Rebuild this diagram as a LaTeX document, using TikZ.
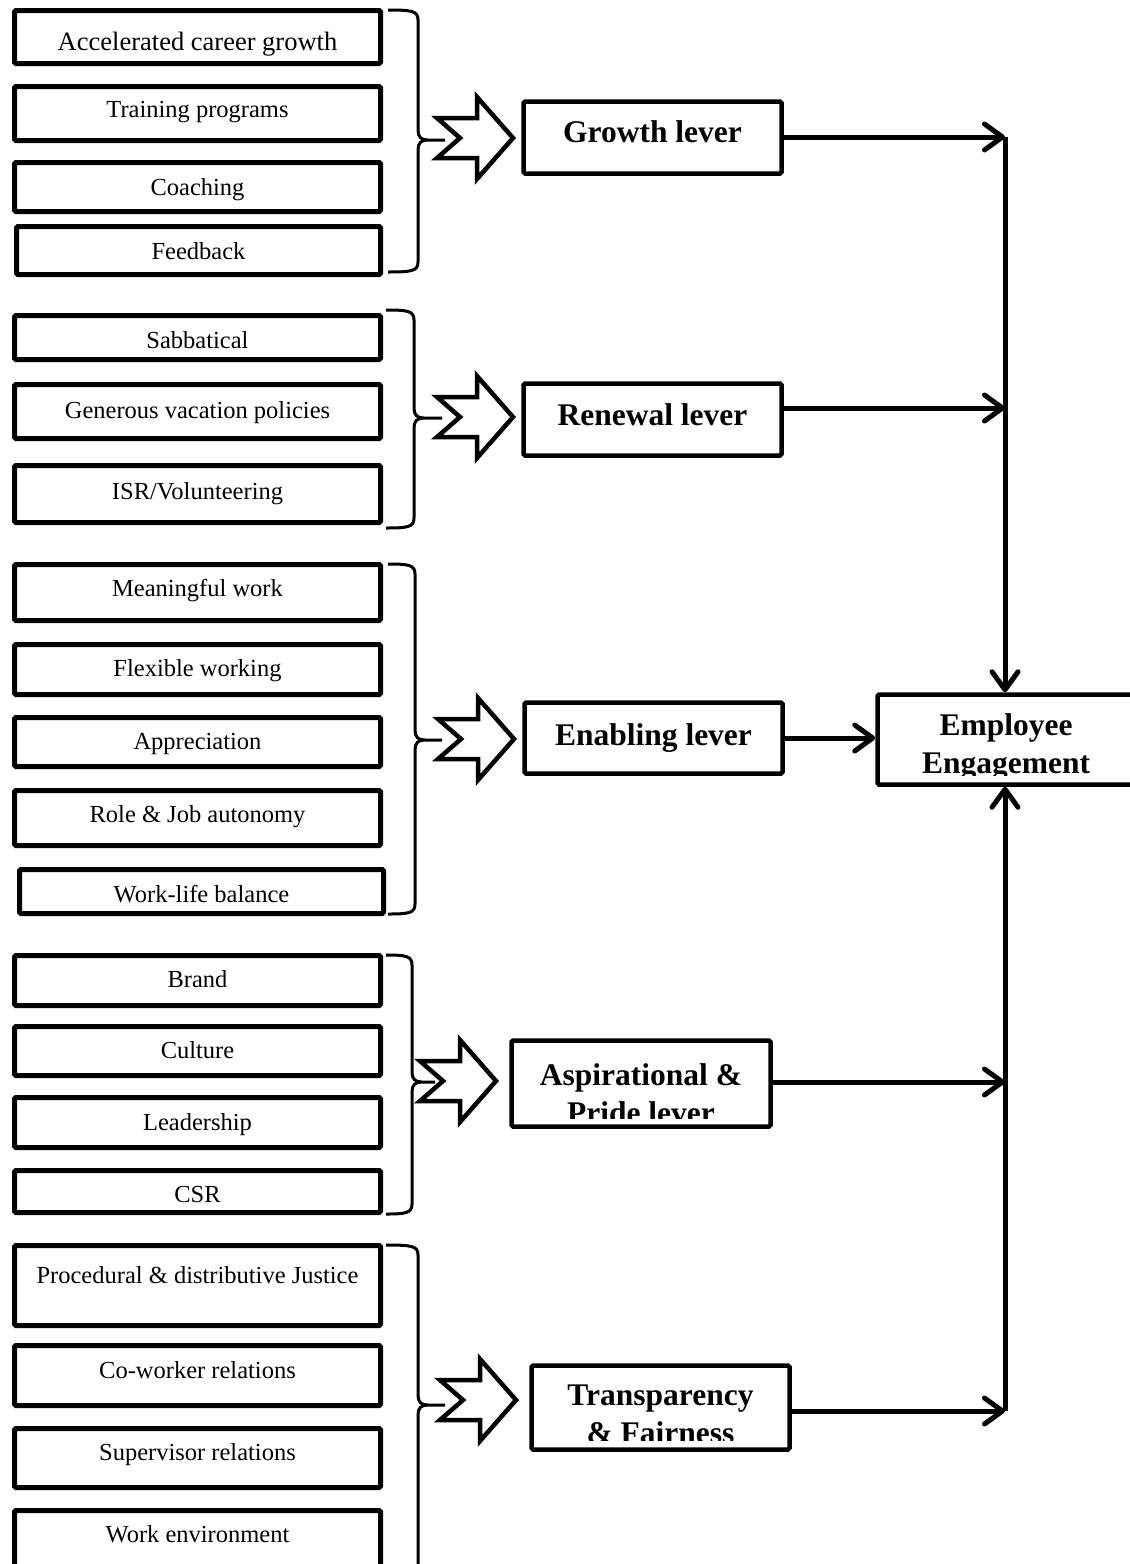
\documentclass[tikz,border=0pt]{standalone}
\usepackage{fontspec}
\setmainfont{Liberation Serif}
\usetikzlibrary{arrows.meta}

\tikzset{
  item/.style={draw, line width=5pt, rounded corners=1.5pt, minimum width=366pt, inner sep=0pt},
  itemtext/.style={font=\fontsize{24.5}{29}\selectfont, anchor=base, inner sep=0pt, yshift=-2pt},
  lever/.style={draw, line width=4.5pt, rounded corners=1.5pt, inner sep=0pt, minimum width=258pt},
  levertext/.style={font=\fontsize{31.5}{38}\selectfont\bfseries, anchor=base, inner sep=0pt},
  bracestyle/.style={line width=3pt},
  hollow/.style={line width=4.5pt, fill=white, line join=miter},
  conn/.style={line width=5pt, -{Straight Barb[length=18pt 0 0, width=26pt 0 0, round]}},
}

% curly brace: left x, spine x, top y, tip y, bottom y, tip end x
\newcommand{\leverbrace}[6]{%
  \draw[bracestyle] (#1,#3) .. controls (#2-6,#3) and (#2,#3+1) .. (#2,#3+10)
    -- (#2,#4-10) .. controls (#2,#4-3) and (#2+3,#4) .. (#2+10,#4) -- (#6,#4)
    (#2+10,#4) .. controls (#2+3,#4) and (#2,#4+3) .. (#2,#4+10)
    -- (#2,#5-10) .. controls (#2,#5-1) and (#2-6,#5) .. (#1,#5);}

% block arrow with notched tail: tail x, centre y
\newcommand{\hollowarrow}[2]{%
  \draw[hollow] (#1,#2-20) -- (#1+40,#2-20) -- (#1+40,#2-41) -- (#1+76,#2)
    -- (#1+40,#2+41) -- (#1+40,#2+20) -- (#1,#2+20) -- (#1+23,#2) -- cycle;}

\begin{document}
\begin{tikzpicture}[x=1pt, y=-1pt]
\useasboundingbox (0,0) rectangle (1130,1564);
\clip (0,0) rectangle (1130,1564);

% ---------- growth drivers ----------
\node[item, minimum height=53pt] (g1a) at (197.5,37) {};
\node[itemtext, font=\fontsize{26.5}{31}\selectfont] (g1a-t) at (197.5,48) {Accelerated career growth};
\node[item, minimum height=54pt] (g1b) at (197.5,113.5) {};
\node[itemtext] (g1b-t) at (197.5,115) {Training programs};
\node[item, minimum height=49pt] (g1c) at (197.5,187) {};
\node[itemtext] (g1c-t) at (197.5,193) {Coaching};
\node[item, minimum height=48pt, minimum width=364pt] (g1d) at (198.5,250.5) {};
\node[itemtext] (g1d-t) at (198.5,257) {Feedback};

% ---------- renewal drivers ----------
\node[item, minimum height=44pt] (g2a) at (197.5,337.5) {};
\node[itemtext] (g2a-t) at (197.5,346) {Sabbatical};
\node[item, minimum height=54pt] (g2b) at (197.5,411.5) {};
\node[itemtext] (g2b-t) at (197.5,416) {Generous vacation policies};
\node[item, minimum height=57pt] (g2c) at (197.5,494) {};
\node[itemtext] (g2c-t) at (197.5,497) {ISR/Volunteering};

% ---------- enabling drivers ----------
\node[item, minimum height=56pt] (g3a) at (197.5,592.5) {};
\node[itemtext] (g3a-t) at (197.5,594) {Meaningful work};
\node[item, minimum height=50pt] (g3b) at (197.5,669.5) {};
\node[itemtext] (g3b-t) at (197.5,674) {Flexible working};
\node[item, minimum height=49pt] (g3c) at (197.5,742) {};
\node[itemtext] (g3c-t) at (197.5,747) {Appreciation};
\node[item, minimum height=55pt] (g3d) at (197.5,818) {};
\node[itemtext] (g3d-t) at (197.5,820) {Role \& Job autonomy};
\node[item, minimum height=44pt, minimum width=364pt] (g3e) at (201.5,891.5) {};
\node[itemtext] (g3e-t) at (201.5,900) {Work-life balance};

% ---------- aspirational drivers ----------
\node[item, minimum height=50pt] (g4a) at (197.5,980.5) {};
\node[itemtext] (g4a-t) at (197.5,985) {Brand};
\node[item, minimum height=49pt] (g4b) at (197.5,1051) {};
\node[itemtext] (g4b-t) at (197.5,1056) {Culture};
\node[item, minimum height=50pt] (g4c) at (197.5,1122.5) {};
\node[itemtext] (g4c-t) at (197.5,1128) {Leadership};
\node[item, minimum height=42pt] (g4d) at (197.5,1191.5) {};
\node[itemtext] (g4d-t) at (197.5,1200) {CSR};

% ---------- fairness drivers ----------
\node[item, minimum height=80pt] (g5a) at (197.5,1285.5) {};
\node[itemtext] (g5a-t) at (197.5,1281) {Procedural \& distributive Justice};
\node[item, minimum height=60pt] (g5b) at (197.5,1375.5) {};
\node[itemtext] (g5b-t) at (197.5,1376) {Co-worker relations};
\node[item, minimum height=59pt] (g5c) at (197.5,1458) {};
\node[itemtext] (g5c-t) at (197.5,1458) {Supervisor relations};
\node[item, minimum height=87pt] (g5d) at (197.5,1554) {};
\node[itemtext] (g5d-t) at (197.5,1540) {Work environment};

% ---------- braces and block arrows ----------
\leverbrace{388}{418}{10}{140}{272}{445}
\hollowarrow{437}{138}
\leverbrace{386}{414}{310}{418}{528}{442}
\hollowarrow{437}{417}
\leverbrace{388}{415}{564}{740}{914}{442}
\hollowarrow{438}{739}
\leverbrace{386}{412}{955}{1082}{1214}{435}
\hollowarrow{420}{1081}
\leverbrace{386}{418}{1245}{1405}{1600}{445}
\hollowarrow{440}{1400}

% ---------- levers ----------
\node[lever, minimum height=72pt] (growth) at (652.5,137.5) {};
\node[levertext] (growth-t) at (652.5,142) {Growth lever};
\node[lever, minimum height=72pt] (renewal) at (652.5,419.5) {};
\node[levertext] (renewal-t) at (652.5,425) {Renewal lever};
\node[lever, minimum height=71pt] (enabling) at (653.5,738) {};
\node[levertext] (enabling-t) at (653.5,745) {Enabling lever};
\node[lever, minimum height=86pt, minimum width=259pt] (asp) at (641,1083.5) {};
\begin{scope}
  \clip (510,1040) rectangle (772,1118);
  \node[levertext] (asp-t1) at (641,1085) {Aspirational \&};
  \node[levertext] (asp-t2) at (641,1123) {Pride lever};
\end{scope}
\node[lever, minimum height=84pt] (trans) at (660.5,1407.5) {};
\begin{scope}
  \clip (530,1365) rectangle (791,1440);
  \node[levertext] (trans-t1) at (660.5,1405) {Transparency};
  \node[levertext] (trans-t2) at (660.5,1443) {\& Fairness};
\end{scope}

% ---------- outcome ----------
\node[lever, minimum height=90pt, minimum width=257pt] (ee) at (1006,739.5) {};
\begin{scope}
  \clip (877,694) rectangle (1135,775);
  \node[levertext] (ee-t1) at (1006,735) {Employee};
  \node[levertext] (ee-t2) at (1006,773) {Engagement};
\end{scope}

% ---------- connectors ----------
\coordinate (jtop) at (1005,137);
\coordinate (jren) at (1005,408);
\coordinate (jasp) at (1005,1082);
\coordinate (jbot) at (1005,1411);

\draw[conn] (growth.east |- jtop) -- (jtop);
\draw[conn] (renewal.east |- jren) -- (jren);
\draw[conn] (asp.east |- jasp) -- (jasp);
\draw[conn] (trans.east |- jbot) -- (jbot);
\draw[conn] (enabling.east) -- (enabling.east -| ee.west);
\draw[conn] (jtop) -- (jtop |- ee.north);
\draw[conn] (jbot) -- (jbot |- ee.south);

\end{tikzpicture}
\end{document}
